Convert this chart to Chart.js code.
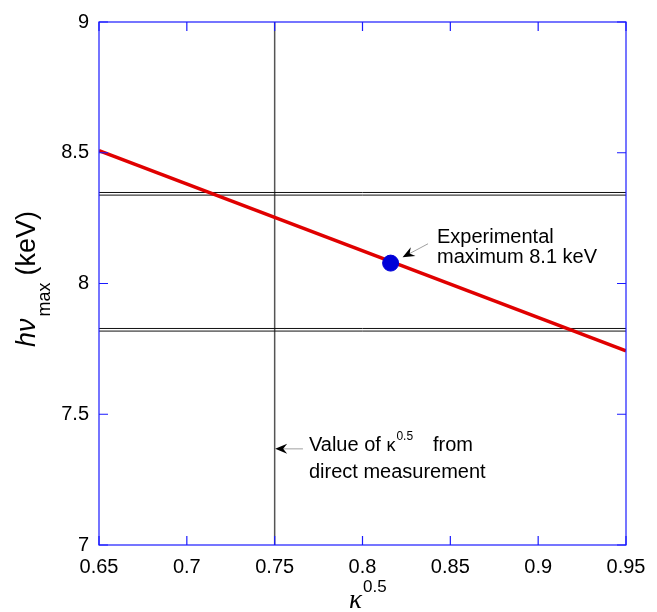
<!DOCTYPE html>
<html>
<head>
<meta charset="utf-8">
<script src="https://cdn.jsdelivr.net/npm/chart.js@4.4.1/dist/chart.umd.min.js"></script>
<style>
  html, body { margin: 0; padding: 0; background: #fff; }
  canvas { display: block; }
</style>
</head>
<body>
<canvas id="chart" width="657" height="612"></canvas>
<script>
// axis ticks
const xTicks = [0.65, 0.7, 0.75, 0.8, 0.85, 0.9, 0.95];
const yTicks = [7, 7.5, 8, 8.5, 9];

// model line hv_max vs kappa^0.5
const modelX = [0.65, 0.95];
const modelY = [8.508, 7.742];

// experimental maximum
const expX = [0.816];
const expY = [8.078];

// horizontal double lines (bounds)
const upperBand = [8.348, 8.338];
const lowerBand = [7.828, 7.818];

// kappa^0.5 from direct measurement
const kappaDirect = 0.75;

const pts = (xs, ys) => xs.map((x, i) => ({ x: x, y: ys[i] }));
const hline = v => [{ x: 0.65, y: v }, { x: 0.95, y: v }];

const FONT = '"Liberation Sans", Arial, Helvetica, sans-serif';

function arrow(ctx, x1, y1, x2, y2) {
  // thin shaft from (x1,y1) to head at (x2,y2)
  const a = Math.atan2(y2 - y1, x2 - x1);
  ctx.save();
  ctx.strokeStyle = '#888';
  ctx.lineWidth = 0.8;
  ctx.beginPath();
  ctx.moveTo(x1, y1);
  ctx.lineTo(x2 - 6 * Math.cos(a), y2 - 6 * Math.sin(a));
  ctx.stroke();
  ctx.translate(x2, y2);
  ctx.rotate(a);
  ctx.fillStyle = '#000';
  ctx.beginPath();
  ctx.moveTo(0, 0);
  ctx.lineTo(-12, -5);
  ctx.lineTo(-8, 0);
  ctx.lineTo(-12, 5);
  ctx.closePath();
  ctx.fill();
  ctx.restore();
}

const decor = {
  id: 'decor',
  afterDatasetsDraw(chart) {
    const ctx = chart.ctx;
    const xs = chart.scales.x, ys = chart.scales.y;
    const a = chart.chartArea;
    ctx.save();

    // frame
    ctx.strokeStyle = '#1a1aff';
    ctx.lineWidth = 1.2;
    ctx.strokeRect(a.left, a.top, a.right - a.left, a.bottom - a.top);

    // inward ticks on all sides
    ctx.beginPath();
    xTicks.forEach(v => {
      const px = xs.getPixelForValue(v);
      ctx.moveTo(px, a.bottom); ctx.lineTo(px, a.bottom - 9);
      ctx.moveTo(px, a.top); ctx.lineTo(px, a.top + 9);
    });
    yTicks.forEach(v => {
      const py = ys.getPixelForValue(v);
      ctx.moveTo(a.left, py); ctx.lineTo(a.left + 9, py);
      ctx.moveTo(a.right, py); ctx.lineTo(a.right - 9, py);
    });
    ctx.stroke();

    ctx.fillStyle = '#000';
    ctx.textBaseline = 'alphabetic';
    ctx.textAlign = 'left';

    // annotation: experimental maximum
    let tx = xs.getPixelForValue(0.8424);
    let ty = ys.getPixelForValue(8.155);
    ctx.font = '20px ' + FONT;
    ctx.fillText('Experimental', tx, ty);
    ctx.fillText('maximum 8.1 keV', tx, ty + 20);
    arrow(ctx, xs.getPixelForValue(0.8373), ys.getPixelForValue(8.152),
               xs.getPixelForValue(0.8228), ys.getPixelForValue(8.100));

    // annotation: direct measurement
    tx = xs.getPixelForValue(0.7695);
    ty = ys.getPixelForValue(7.360);
    ctx.font = '20px ' + FONT;
    ctx.fillText('Value of ', tx, ty);
    let w = ctx.measureText('Value of ').width;
    ctx.font = '18px ' + FONT;
    ctx.fillText('\u03ba', tx + w, ty);
    w += ctx.measureText('\u03ba').width + 1;
    ctx.font = '12px ' + FONT;
    ctx.fillText('0.5', tx + w, ty - 11);
    ctx.font = '20px ' + FONT;
    ctx.fillText('from', tx + 124, ty);
    ctx.fillText('direct measurement', tx, ty + 27);
    arrow(ctx, xs.getPixelForValue(0.7661), ty - 2,
               xs.getPixelForValue(kappaDirect) + 0.5, ty - 2);

    // x axis title
    const cx = xs.getPixelForValue(0.7923);
    ctx.font = 'italic 27px "Liberation Serif", "DejaVu Serif", serif';
    ctx.fillText('\u03ba', cx, 608);
    ctx.font = '17px ' + FONT;
    ctx.fillText('0.5', cx + 14, 592);

    // y axis title
    ctx.save();
    ctx.translate(35, 347);
    ctx.rotate(-Math.PI / 2);
    ctx.font = 'italic 27px ' + FONT;
    ctx.fillText('h\u03bd', 0, 0);
    let yw = ctx.measureText('h\u03bd').width + 2;
    ctx.font = '18px ' + FONT;
    ctx.fillText('max', yw, 15);
    yw += ctx.measureText('max').width + 7;
    ctx.font = '27px ' + FONT;
    ctx.fillText('(keV)', yw, 0);
    ctx.restore();

    ctx.restore();
  }
};

new Chart(document.getElementById('chart'), {
  type: 'scatter',
  data: {
    datasets: [
      {
        data: pts(expX, expY),
        pointRadius: 8,
        pointBackgroundColor: '#0000d8',
        pointBorderColor: '#0000d8',
        showLine: false
      },
      {
        data: pts(modelX, modelY),
        showLine: true,
        borderColor: '#e00000',
        borderWidth: 3.5,
        pointRadius: 0
      },
      { data: hline(upperBand[0]), showLine: true, borderColor: '#111', borderWidth: 1, pointRadius: 0 },
      { data: hline(upperBand[1]), showLine: true, borderColor: '#111', borderWidth: 1, pointRadius: 0 },
      { data: hline(lowerBand[0]), showLine: true, borderColor: '#111', borderWidth: 1, pointRadius: 0 },
      { data: hline(lowerBand[1]), showLine: true, borderColor: '#111', borderWidth: 1, pointRadius: 0 },
      {
        data: [{ x: kappaDirect, y: 7 }, { x: kappaDirect, y: 9 }],
        showLine: true, borderColor: '#555', borderWidth: 1.5, pointRadius: 0
      }
    ]
  },
  options: {
    responsive: false,
    animation: false,
    layout: { padding: { top: 17, right: 31, left: 0, bottom: 0 } },
    plugins: { legend: { display: false }, tooltip: { enabled: false } },
    scales: {
      x: {
        type: 'linear',
        min: 0.65,
        max: 0.95,
        grid: { display: false, drawTicks: false },
        border: { display: false },
        afterBuildTicks: s => { s.ticks = xTicks.map(v => ({ value: v })); },
        afterFit: s => { s.height = 67; },
        ticks: {
          padding: 10,
          maxRotation: 0,
          color: '#000',
          font: { family: FONT, size: 20 },
          callback: v => String(v)
        }
      },
      y: {
        type: 'linear',
        min: 7,
        max: 9,
        grid: { display: false, drawTicks: false },
        border: { display: false },
        afterBuildTicks: s => { s.ticks = yTicks.map(v => ({ value: v })); },
        afterFit: s => { s.width = 99; },
        ticks: {
          padding: 10,
          color: '#000',
          font: { family: FONT, size: 20 },
          callback: v => String(v)
        }
      }
    }
  },
  plugins: [decor]
});
</script>
</body>
</html>
